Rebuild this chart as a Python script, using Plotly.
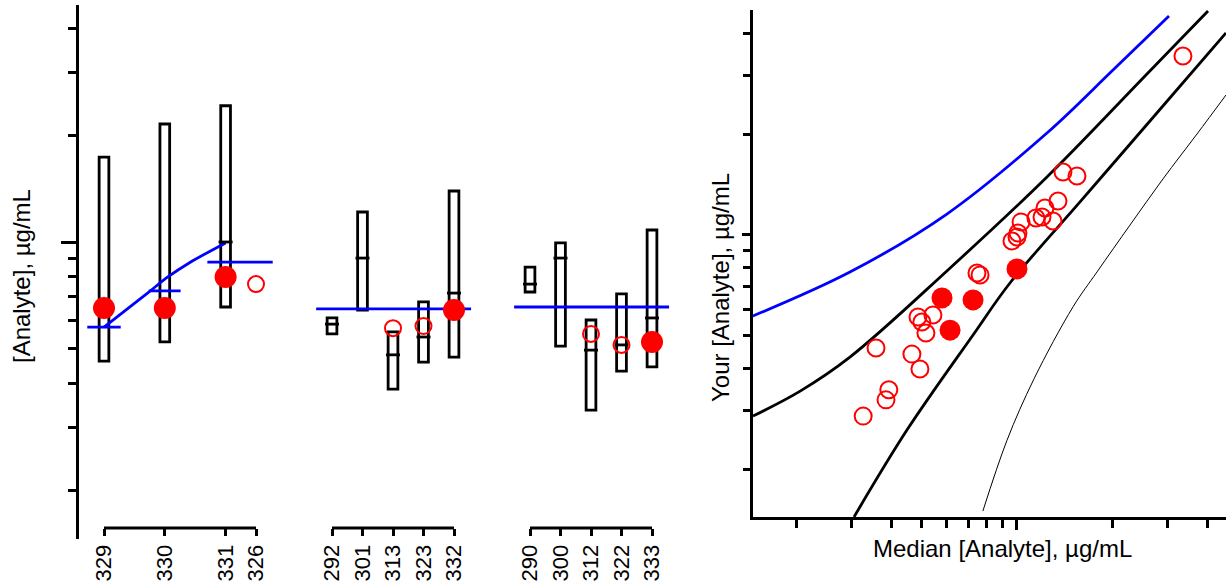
import plotly.graph_objects as go

W, H = 1226, 586

# ---- left panel: lab results, µg/mL ----
g1_labs = ['329', '330', '331', '326']
g1_low = [4.62, 5.23, 6.56, None]
g1_med = [6.52, 6.52, 10.0, None]
g1_high = [17.35, 21.5, 24.2, None]
g1_val = [6.52, 6.52, 7.97, 7.61]
g1_filled = [True, True, True, False]
g1_ref = [5.76, 7.28, 8.78]
g1_trend_x = [0.0, 1.4, 2.1, 2.8, 4.0]
g1_trend_y = [5.76, 7.14, 7.97, 8.73, 9.94]

g2_labs = ['292', '301', '313', '323', '332']
g2_low = [5.51, 6.43, 3.85, 4.59, 4.74]
g2_med = [5.87, 9.01, 4.81, 5.40, 7.18]
g2_high = [6.11, 12.15, 5.58, 6.78, 13.92]
g2_val = [None, None, 5.72, 5.80, 6.43]
g2_filled = [False, False, False, False, True]
g2_ref = 6.48

g3_labs = ['290', '300', '312', '322', '333']
g3_low = [7.23, 5.09, 3.36, 4.33, 4.45]
g3_med = [7.61, 9.01, 4.96, 5.13, 6.11]
g3_high = [8.50, 9.94, 6.03, 7.14, 10.81]
g3_val = [None, None, 5.51, 5.13, 5.23]
g3_filled = [False, False, False, False, True]
g3_ref = 6.56

# ---- right panel: your value vs median ----
blue_x = [1.46, 2.96, 6.00, 12.44, 20.13, 30.27]
blue_y = [5.73, 7.75, 11.55, 20.16, 31.09, 45.05]
upper_x = [1.46, 2.06, 2.96, 6.00, 12.44, 25.78, 40.22]
upper_y = [2.88, 3.42, 4.32, 7.81, 14.90, 30.24, 46.64]
lower_x = [3.05, 4.49, 7.26, 9.50, 15.83, 26.35, 45.86]
lower_y = [1.44, 2.62, 5.03, 7.19, 12.55, 21.89, 40.09]
thin_x = [7.80, 9.30, 11.32, 15.04, 17.92, 22.79, 28.97, 37.12, 45.86]
thin_y = [1.50, 2.44, 3.72, 6.10, 7.76, 10.71, 14.70, 20.02, 26.18]

open_x = [33.51, 13.98, 15.48, 13.48, 12.26, 11.48, 12.00, 13.00, 10.30, 10.07, 10.0, 9.64,
          7.47, 7.64, 5.42, 4.86, 5.00, 5.15, 3.58, 4.65, 4.93, 3.93, 3.85, 3.26]
open_y = [34.22, 15.42, 15.00, 12.63, 12.04, 11.24, 11.32, 11.01, 10.94, 10.14, 9.86, 9.60,
          7.70, 7.60, 5.77, 5.69, 5.50, 5.10, 4.60, 4.41, 3.98, 3.45, 3.22, 2.88]
filled_x = [5.79, 7.26, 6.14, 10.0]
filled_y = [6.49, 6.40, 5.20, 7.92]

minor_vals = [2, 3, 4, 5, 6, 7, 8, 9, 20, 30, 40]
RED, BLUE = '#ff0000', '#0000ff'
FONT = 'Liberation Sans, Arial, sans-serif'
LW = 2.8

fig = go.Figure()


def add_group(xa, pos, low, med, high, val, filled, ref_spans, ref_vals):
    box_len = [h - l if l is not None else None for l, h in zip(low, high)]
    fig.add_trace(go.Bar(x=pos, y=box_len, base=low, width=0.32, xaxis=xa, yaxis='y',
                         marker=dict(color='white', line=dict(color='black', width=LW))))
    fig.add_trace(go.Scatter(x=pos, y=med, mode='markers', xaxis=xa, yaxis='y',
                             marker=dict(symbol='line-ew', size=10,
                                         line=dict(color='black', width=LW))))
    for (a, b), v in zip(ref_spans, ref_vals):
        fig.add_trace(go.Scatter(x=[a, b], y=[v, v], mode='lines', xaxis=xa, yaxis='y',
                                 line=dict(color=BLUE, width=LW)))
    op = [(p, v) for p, v, f in zip(pos, val, filled) if v is not None and not f]
    fl = [(p, v) for p, v, f in zip(pos, val, filled) if v is not None and f]
    if op:
        fig.add_trace(go.Scatter(x=[p for p, _ in op], y=[v for _, v in op], mode='markers',
                                 xaxis=xa, yaxis='y', cliponaxis=False,
                                 marker=dict(symbol='circle-open', size=16, color=RED,
                                             line=dict(width=2))))
    if fl:
        fig.add_trace(go.Scatter(x=[p for p, _ in fl], y=[v for _, v in fl], mode='markers',
                                 xaxis=xa, yaxis='y', cliponaxis=False,
                                 marker=dict(symbol='circle', size=22, color=RED)))


g1_pos = [0, 2, 4, 5]
g2_pos = list(range(len(g2_labs)))
g3_pos = list(range(len(g3_labs)))

# group 1 trend line drawn under the markers
fig.add_trace(go.Scatter(x=g1_trend_x, y=g1_trend_y, mode='lines', line_shape='spline',
                         xaxis='x', yaxis='y', line=dict(color=BLUE, width=LW)))
add_group('x', g1_pos, g1_low, g1_med, g1_high, g1_val, g1_filled,
          [(-0.55, 0.55), (1.47, 2.52), (3.4, 5.55)], g1_ref)
add_group('x2', g2_pos, g2_low, g2_med, g2_high, g2_val, g2_filled,
          [(-0.52, 4.56)], [g2_ref])
add_group('x3', g3_pos, g3_low, g3_med, g3_high, g3_val, g3_filled,
          [(-0.52, 4.56)], [g3_ref])

# right panel
for cx, cy, col, wd in [(thin_x, thin_y, 'black', 1), (lower_x, lower_y, 'black', LW),
                        (upper_x, upper_y, 'black', LW), (blue_x, blue_y, BLUE, LW)]:
    fig.add_trace(go.Scatter(x=cx, y=cy, mode='lines', line=dict(color=col, width=wd,
                                                                  shape='spline', smoothing=1.0),
                             xaxis='x4', yaxis='y2'))
fig.add_trace(go.Scatter(x=open_x, y=open_y, mode='markers', xaxis='x4', yaxis='y2',
                         marker=dict(symbol='circle-open', size=17, color=RED,
                                     line=dict(width=2))))
fig.add_trace(go.Scatter(x=filled_x, y=filled_y, mode='markers', xaxis='x4', yaxis='y2',
                         marker=dict(symbol='circle', size=21, color=RED)))


def px_x(p):
    return p / W


def px_y(p):
    return 1 - p / H


def group_axis(pos, labs, d0, d1, origin, unit):
    return dict(domain=[px_x(d0), px_x(d1)],
                range=[(d0 - origin) / unit, (d1 - origin) / unit],
                anchor='free', position=px_y(528), showline=False, showgrid=False,
                zeroline=False, ticks='outside', ticklen=7, tickwidth=LW, tickcolor='black',
                tickvals=pos, ticktext=labs, tickangle=-90,
                tickfont=dict(size=22, color='black', family=FONT))


log_common = dict(type='log', showline=True, linewidth=LW, linecolor='black',
                  showgrid=False, zeroline=False, ticks='outside', tickcolor='black',
                  tickwidth=LW, showticklabels=False, tickvals=[10])

fig.update_layout(
    width=W, height=H, margin=dict(l=0, r=0, t=0, b=0),
    paper_bgcolor='white', plot_bgcolor='white', showlegend=False, barmode='overlay',
    font=dict(family=FONT, color='black'),
    xaxis=group_axis(g1_pos, g1_labs, 82, 300, 104, 30.4),
    xaxis2=group_axis(g2_pos, g2_labs, 306, 500, 332, 30.5),
    xaxis3=group_axis(g3_pos, g3_labs, 506, 700, 530, 30.5),
    yaxis=dict(domain=[px_y(539), px_y(5)], range=[0.1634, 1.6676], anchor='free',
               position=px_x(77), ticklen=15,
               minor=dict(tickvals=minor_vals, ticks='outside', ticklen=8, tickwidth=LW,
                          tickcolor='black', showgrid=False),
               **log_common),
    xaxis4=dict(domain=[px_x(753), 1.0], range=[0.1646, 1.6614], anchor='y2', ticklen=10,
                minor=dict(tickvals=minor_vals, ticks='outside', ticklen=8, tickwidth=LW,
                           tickcolor='black', showgrid=False),
                **log_common),
    yaxis2=dict(domain=[px_y(517), px_y(10)], range=[0.1582, 1.6716], anchor='x4', ticklen=8,
                minor=dict(tickvals=minor_vals, ticks='outside', ticklen=7, tickwidth=LW,
                           tickcolor='black', showgrid=False),
                **log_common),
)

# bottom axis line of each lab group spans its first to last lab
for xa, pos in [('x', g1_pos), ('x2', g2_pos), ('x3', g3_pos)]:
    fig.add_shape(type='line', xref=xa, yref='paper', x0=pos[0], x1=pos[-1],
                  y0=px_y(528), y1=px_y(528), line=dict(color='black', width=LW))

titles = [('[Analyte], µg/mL', 21, 276, -90), ('Your [Analyte], µg/mL', 720, 288, -90),
          ('Median [Analyte], µg/mL', 1002, 548, 0)]
for txt, tx, ty, ang in titles:
    fig.add_annotation(text=txt, x=px_x(tx), y=px_y(ty), xref='paper', yref='paper',
                       xanchor='center', yanchor='middle', textangle=ang, showarrow=False,
                       font=dict(size=24))

fig.write_html("out.html", config={'displayModeBar': False},
               post_script="document.body.style.margin = '0';")
